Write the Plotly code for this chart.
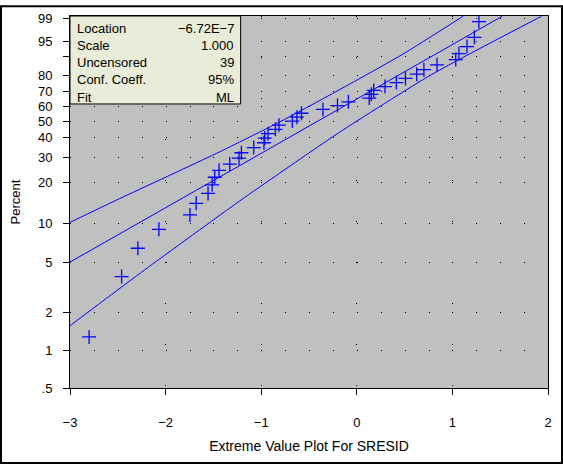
import numpy as np
import plotly.graph_objects as go

# ordered residuals (SRESID) and their plotting positions (percent)
resid = [-2.80, -2.46, -2.29, -2.07, -1.745, -1.68, -1.556, -1.513, -1.486, -1.441,
         -1.329, -1.232, -1.207, -1.078, -0.971, -0.963, -0.929, -0.851, -0.814, -0.674,
         -0.626, -0.579, -0.354, -0.202, -0.088, 0.130, 0.151, 0.177, 0.295, 0.414,
         0.509, 0.627, 0.702, 0.839, 1.035, 1.068, 1.153, 1.230, 1.277]
pct = [1.28, 3.85, 6.41, 8.97, 11.54, 14.10, 16.67, 19.23, 21.79, 24.36,
       26.92, 29.49, 32.05, 34.62, 37.18, 39.74, 42.31, 44.87, 47.44, 50.00,
       52.56, 55.13, 57.69, 60.26, 62.82, 65.38, 67.95, 70.51, 73.08, 75.64,
       78.21, 80.77, 83.33, 85.90, 88.46, 91.03, 93.59, 96.15, 98.72]

# fitted line and 95% bands
fit_x = [-3.0, 1.52]
fit_pct = [5.0, 99.18]
upper_x = [-3.0, -2.48, -1.469, -0.806, -0.283, 0.467, 1.111]
upper_pct = [10.14, 15.27, 31.73, 49.48, 67.43, 90.47, 99.18]
lower_x = [-3.0, -2.655, -2.218, -1.225, -0.806, -0.178, 0.780, 1.931]
lower_pct = [1.57, 2.47, 4.35, 14.67, 23.30, 43.23, 80.49, 99.18]

y_ticks = [0.5, 1, 2, 5, 10, 20, 30, 40, 50, 60, 70, 80, 90, 95, 99]
y_labels = [".5", "1", "2", "5", "10", "20", "30", "40", "50", "60", "70", "80", "", "95", "99"]
x_ticks = [-3, -2, -1, 0, 1, 2]
x_labels = ["\u22123", "\u22122", "\u22121", "0", "1", "2"]

stat_names = ["Location", "Scale", "Uncensored", "Conf. Coeff.", "Fit"]
stat_values = ["\u22126.72E\u22127", "1.000", "39", "95%", "ML"]


def ev(p):
    # extreme value probability scale
    p = np.asarray(p, dtype=float) / 100.0
    return np.log(-np.log(1.0 - p))


FONT = "Liberation Sans, Arial, sans-serif"
BLUE = "#0000FF"

fig = go.Figure()

fig.add_trace(go.Scatter(x=upper_x, y=ev(upper_pct), mode="lines",
                         line=dict(color=BLUE, width=1, shape="spline", smoothing=0.6)))
fig.add_trace(go.Scatter(x=fit_x, y=ev(fit_pct), mode="lines",
                         line=dict(color=BLUE, width=1)))
fig.add_trace(go.Scatter(x=lower_x, y=ev(lower_pct), mode="lines",
                         line=dict(color=BLUE, width=1, shape="spline", smoothing=0.6)))
fig.add_trace(go.Scatter(x=resid, y=ev(pct), mode="markers",
                         marker=dict(symbol="cross-thin", size=10,
                                     line=dict(color=BLUE, width=1.3))))

# stats box in the upper left corner
fig.add_shape(type="rect", xref="paper", yref="paper", x0=0, x1=0.357, y0=0.7635, y1=1,
              fillcolor="#E8ECD8", line=dict(color="black", width=1), layer="above")
row_y = [23.3, 40.8, 58.3, 75.8, 93.3]
for name, val, ry in zip(stat_names, stat_values, row_y):
    yy = 1 - (ry - 11) / 377
    fig.add_annotation(x=0.0113, y=yy, xref="paper", yref="paper", text=name,
                       showarrow=False, xanchor="left", yanchor="middle",
                       font=dict(family=FONT, size=13, color="black"))
    fig.add_annotation(x=0.3467, y=yy, xref="paper", yref="paper", text=val,
                       showarrow=False, xanchor="right", yanchor="middle",
                       font=dict(family=FONT, size=13, color="black"))

# frame round the whole picture
fig.add_shape(type="rect", xref="paper", yref="paper",
              x0=-69 / 478, x1=1 + 14 / 478, y0=-76 / 377, y1=1 + 10 / 377,
              line=dict(color="black", width=2), fillcolor="rgba(0,0,0,0)")

fig.update_layout(
    width=563, height=465,
    margin=dict(l=70, r=15, t=11, b=77),
    paper_bgcolor="white",
    plot_bgcolor="#C0C0C0",
    showlegend=False,
    font=dict(family=FONT, size=13, color="black"),
    xaxis=dict(range=[-3, 2], tickvals=x_ticks, ticktext=x_labels,
               ticks="outside", ticklen=6, tickcolor="black", ticklabelstandoff=16,
               showline=True, linecolor="black", linewidth=1, mirror=True,
               showgrid=True, gridcolor="black", gridwidth=1, griddash="1px,40px",
               zeroline=False,
               title=dict(text="Extreme Value Plot For SRESID", font=dict(size=14), standoff=12)),
    yaxis=dict(range=[float(ev(0.5)), 1.575], tickvals=ev(y_ticks), ticktext=y_labels,
               ticks="outside", ticklen=6, tickcolor="black", ticklabelstandoff=8,
               showline=True, linecolor="black", linewidth=1, mirror=True,
               showgrid=True, gridcolor="black", gridwidth=1, griddash="1px,22.9px",
               zeroline=False,
               title=dict(text="Percent", font=dict(size=13), standoff=14)),
)

fig.write_html("out.html", config={"displayModeBar": False},
               post_script="document.body.style.margin='0';")
